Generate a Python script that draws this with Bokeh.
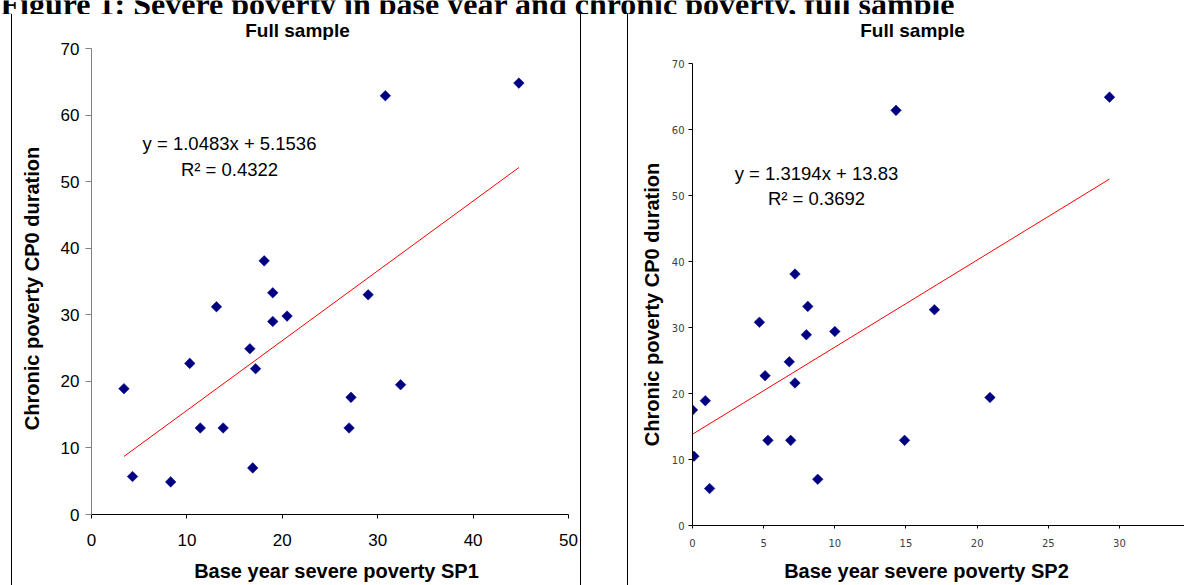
import numpy as np
from bokeh.plotting import figure
from bokeh.models import Range1d, FixedTicker, Label, Div, Spacer
from bokeh.layouts import row, column
from bokeh.embed import file_html
from bokeh.resources import INLINE
from bokeh.core.properties import value

# ---------------- data ----------------
figure_title = "Figure 1: Severe poverty in base year and chronic poverty, full sample"
panel_title = "Full sample"
y_title = "Chronic poverty CP0 duration"
x_title_sp1 = "Base year severe poverty SP1"
x_title_sp2 = "Base year severe poverty SP2"

sp1 = [3.4, 4.3, 8.3, 10.3, 11.4, 13.1, 13.8, 16.6, 16.9, 17.2,
       18.1, 19.0, 19.0, 20.5, 27.0, 27.2, 29.0, 32.4, 30.8, 44.8]
cp0_sp1 = [18.9, 5.7, 4.9, 22.7, 13.0, 31.2, 13.0, 24.9, 7.0, 21.9,
           38.1, 33.3, 29.0, 29.8, 13.0, 17.6, 33.0, 19.5, 62.9, 64.8]

sp2 = [0.0, 0.1, 0.9, 1.2, 4.7, 5.1, 5.3, 6.8, 6.9, 7.2,
       7.2, 8.1, 8.0, 8.8, 10.0, 14.9, 17.0, 20.9, 14.3, 29.3]
cp0_sp2 = [17.5, 10.5, 18.9, 5.6, 30.8, 22.7, 12.9, 24.8, 12.9, 21.6,
           38.1, 33.2, 28.9, 7.0, 29.4, 12.9, 32.7, 19.4, 62.9, 64.9]

fit_slope = [1.0483, 1.3194]
fit_intercept = [5.1536, 13.83]
fit_r2 = [0.4322, 0.3692]

x_ticks_sp1 = [0, 10, 20, 30, 40, 50]
x_ticks_sp2 = [0, 5, 10, 15, 20, 25, 30]
y_ticks = [0, 10, 20, 30, 40, 50, 60, 70]

# ---------------- layout (page pixels) ----------------
HEAD_H = 14          # title strip, y 0..14
SUB_H = 26           # panel title strip, y 14..40
MID_H = 516          # plot row, y 40..556
XT_H = 29            # x-title strip, y 556..585
ROW_H = SUB_H + MID_H + XT_H
NAVY = "#000080"
SANS = "Liberation Sans"
DESC = 0.22          # descent (em) that Bokeh's svg text sits above the given y


def strip(x0, x1, y0, y1, bt=0, bb=0):
    """A text strip whose data coordinates are page pixels (y downwards)."""
    s = figure(width=x1 - x0, height=y1 - y0,
               x_range=Range1d(x0, x1), y_range=Range1d(y1 - bb, y0 + bt),
               output_backend="svg", toolbar_location=None,
               x_axis_location=None, y_axis_location=None,
               min_border_left=0, min_border_right=0,
               min_border_top=bt, min_border_bottom=bb)
    s.outline_line_color = None
    s.grid.visible = False
    s.background_fill_color = "white"
    s.border_fill_color = "white"
    return s


def put_text(s, x, y, text, size, bold=True, rotated=False, align="center", font=SANS):
    # (x, y): wanted baseline position in page pixels
    d = DESC * size
    if rotated:
        x -= d
    else:
        y -= d
    s.text(x=[x], y=[y], text=[text], text_font=value(font), text_font_size=f"{size}px",
           text_font_style="bold" if bold else "normal", text_align=align,
           text_baseline="alphabetic", text_color="black",
           angle=np.pi / 2 if rotated else 0.0)


def make_panel(w, borders, xr, yr, frame):
    bl, br, bt, bb = borders
    p = figure(width=w, height=MID_H, x_range=Range1d(*xr), y_range=Range1d(*yr),
               output_backend="svg", toolbar_location=None,
               min_border_left=bl, min_border_right=br,
               min_border_top=bt, min_border_bottom=bb)
    p.outline_line_color = None
    p.grid.visible = False
    p.background_fill_color = "white"
    p.border_fill_color = "white"
    for ax in (p.xaxis[0], p.yaxis[0]):
        ax.minor_tick_line_color = None
        ax.major_tick_in = 0
    fx0, fx1, fy0, fy1 = frame

    def at(px, py):
        x = xr[0] + (px - fx0) * (xr[1] - xr[0]) / (fx1 - fx0)
        y = yr[0] + (fy1 - py) * (yr[1] - yr[0]) / (fy1 - fy0)
        return x, y
    return p, at


def draw_series(p, xs, ys, k):
    p.scatter(xs, ys, marker="square", angle=np.pi / 4, size=7.5,
              fill_color=NAVY, line_color=NAVY, line_width=0.5)
    x0, x1 = min(xs), max(xs)
    p.line([x0, x1],
           [fit_slope[k] * x0 + fit_intercept[k], fit_slope[k] * x1 + fit_intercept[k]],
           line_color="#FF0000", line_width=1)


def equation(p, at, k, cx, base1, base2, size=18.5):
    d = DESC * size
    for by, t in ((base1, f"y = {fit_slope[k]}x + {fit_intercept[k]}"),
                  (base2, f"R\u00b2 = {fit_r2[k]}")):
        x, y = at(cx, by - d)
        p.add_layout(Label(x=x, y=y, text=t, text_font=SANS, text_font_size=f"{size}px",
                           text_align="center", text_baseline="alphabetic",
                           text_color="black"))


# ---------------- left panel (SP1): page x 12..580 ----------------
left, at_l = make_panel(530, (41, 12, 8, 42), (0, 50), (0, 70), (91, 568, 48, 514))
draw_series(left, sp1, cp0_sp1, 0)
xa, ya = left.xaxis[0], left.yaxis[0]
xa.ticker = FixedTicker(ticks=x_ticks_sp1)
ya.ticker = FixedTicker(ticks=y_ticks)
xa.axis_line_color = "black"
xa.major_tick_line_color = "black"
xa.major_tick_out = 4
ya.axis_line_color = "#808080"
ya.major_tick_line_color = "#808080"
ya.major_tick_out = 6
for ax in (xa, ya):
    ax.major_label_text_font = SANS
    ax.major_label_text_font_size = "17px"
    ax.major_label_text_color = "black"
xa.major_label_standoff = 15
ya.major_label_standoff = 6
equation(left, at_l, 0, 229, 146.7, 172.7)

sub_l = strip(12, 580, 14, 40)
put_text(sub_l, 297, 34.5, panel_title, 19)
yt_l = strip(12, 50, 40, 556, bt=8, bb=42)
put_text(yt_l, 35.5, 288, y_title, 20, rotated=True)
xt_l = strip(12, 580, 556, 585)
put_text(xt_l, 336, 575, x_title_sp1, 20)
left_block = column(sub_l, row(yt_l, left, spacing=0, margin=0), xt_l, spacing=0, margin=0)

# ---------------- right panel (SP2): page x 628..1184 ----------------
right, at_r = make_panel(520, (28, 0, 23, 31), (0, 34.57), (0, 70), (692, 1184, 63, 525))
draw_series(right, sp2, cp0_sp2, 1)
xb, yb = right.xaxis[0], right.yaxis[0]
xb.ticker = FixedTicker(ticks=x_ticks_sp2)
yb.ticker = FixedTicker(ticks=y_ticks)
for ax in (xb, yb):
    ax.axis_line_color = "black"
    ax.major_tick_line_color = "black"
    ax.major_label_text_font = "DejaVu Sans"
    ax.major_label_text_font_size = "10px"
    ax.major_label_text_color = "#404040"
xb.major_tick_out = 3
yb.major_tick_out = 4
xb.major_label_standoff = 10
yb.major_label_standoff = 4
equation(right, at_r, 1, 816, 176.7, 201.7)

sub_r = strip(628, 1184, 14, 40)
put_text(sub_r, 912, 34.5, panel_title, 19)
yt_r = strip(628, 664, 40, 556, bt=23, bb=31)
put_text(yt_r, 655.5, 304, y_title, 20, rotated=True)
xt_r = strip(628, 1184, 556, 585)
put_text(xt_r, 926, 575, x_title_sp2, 20)
right_block = column(sub_r, row(yt_r, right, spacing=0, margin=0), xt_r, spacing=0, margin=0)

# ---------------- page title (its top is cropped, as in the reference) ----------------
head = strip(0, 1184, 0, HEAD_H)
put_text(head, 0, 11, figure_title, 32, align="left", font="Liberation Serif")


def vline():
    return Div(text="", width=1, height=ROW_H, margin=0,
               styles={"background-color": "black"})


body = row(Spacer(width=11, height=ROW_H, margin=0), vline(), left_block, vline(),
           Spacer(width=46, height=ROW_H, margin=0), vline(), right_block,
           spacing=0, margin=0)
page = column(head, body, spacing=0, margin=0)

open("out.html", "w").write(file_html(page, INLINE))
